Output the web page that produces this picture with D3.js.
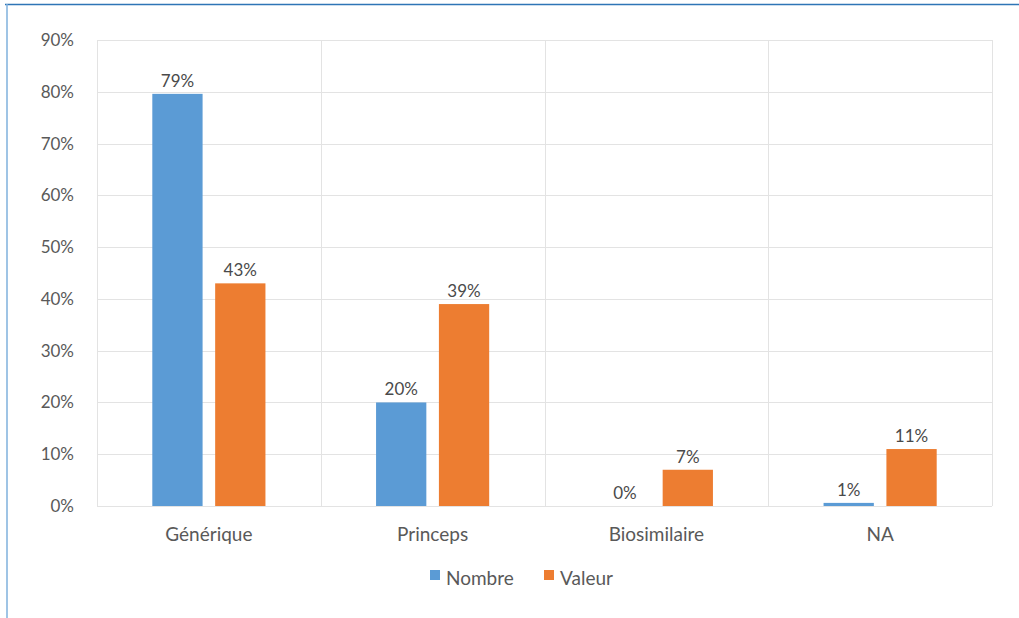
<!DOCTYPE html>
<html>
<head>
<meta charset="utf-8">
<script src="https://cdn.jsdelivr.net/npm/d3@7"></script>
<style>
  body { margin: 0; background: #fff; }
  svg { display: block; font-family: Lato, "Open Sans", sans-serif; }
</style>
</head>
<body>
<svg width="1019" height="618"></svg>
<script>
const svg = d3.select("svg");

const categories = ["Générique", "Princeps", "Biosimilaire", "NA"];
const seriesNames = ["Nombre", "Valeur"];
const nombre = [79.6, 20, 0, 0.6];
const valeur = [43, 39, 7, 11];
const labelsNombre = ["79%", "20%", "0%", "1%"];
const labelsValeur = ["43%", "39%", "7%", "11%"];
const yTicks = [0, 10, 20, 30, 40, 50, 60, 70, 80, 90];

const colors = ["#5b9bd5", "#ed7d31"];

// frame lines of the picture
svg.append("line").attr("x1", 5).attr("x2", 1019).attr("y1", 4.5).attr("y2", 4.5)
    .style("stroke", "#2e75b6").style("stroke-width", 1.5);
svg.append("line").attr("x1", 7).attr("x2", 7).attr("y1", 4).attr("y2", 618)
    .style("stroke", "#7fb0dc").style("stroke-width", 1.5);

const plotLeft = 97, plotRight = 992, plotTop = 40, plotBottom = 506;

const x = d3.scaleBand().domain(categories).range([plotLeft, plotRight]);
const x1 = d3.scaleBand().domain(seriesNames).range([0, x.bandwidth()])
    .paddingInner(0.2).paddingOuter(0.88);
const y = d3.scaleLinear().domain([0, 90]).range([plotBottom, plotTop]);

// horizontal grid
svg.append("g").selectAll("line").data(yTicks).enter().append("line")
    .attr("x1", plotLeft).attr("x2", plotRight)
    .attr("y1", d => Math.round(y(d)) + 0.5).attr("y2", d => Math.round(y(d)) + 0.5)
    .style("stroke", "#e3e3e3");

// vertical separators
const seps = categories.map(c => x(c)).concat([plotRight]);
svg.append("g").selectAll("line").data(seps).enter().append("line")
    .attr("x1", d => Math.round(d) + 0.5).attr("x2", d => Math.round(d) + 0.5)
    .attr("y1", plotTop).attr("y2", plotBottom)
    .style("stroke", "#e3e3e3");

// y labels
svg.append("g").selectAll("text").data(yTicks).enter().append("text")
    .attr("x", 74).attr("y", d => y(d) + 6)
    .attr("text-anchor", "end")
    .attr("font-size", 17).attr("fill", "#595959")
    .text(d => d + "%");

// bars
const series = [nombre, valeur];
const labels = [labelsNombre, labelsValeur];
series.forEach((vals, s) => {
    const g = svg.append("g");
    g.selectAll("rect").data(vals).enter().append("rect")
        .attr("x", (d, i) => x(categories[i]) + x1(seriesNames[s]))
        .attr("width", x1.bandwidth())
        .attr("y", d => y(d))
        .attr("height", d => y(0) - y(d))
        .style("fill", colors[s]);
    g.selectAll("text").data(vals).enter().append("text")
        .attr("x", (d, i) => x(categories[i]) + x1(seriesNames[s]) + x1.bandwidth() / 2)
        .attr("y", d => y(d) - 7)
        .attr("text-anchor", "middle")
        .attr("font-size", 17).attr("fill", "#4a4a4a")
        .text((d, i) => labels[s][i]);
});

// category labels
svg.append("g").selectAll("text").data(categories).enter().append("text")
    .attr("x", d => x(d) + x.bandwidth() / 2)
    .attr("y", 541)
    .attr("text-anchor", "middle")
    .attr("font-size", 19).attr("fill", "#595959")
    .text(d => d);

// legend
const legendX = [430, 544];
const legend = svg.append("g");
seriesNames.forEach((n, i) => {
    legend.append("rect").attr("x", legendX[i]).attr("y", 570)
        .attr("width", 10).attr("height", 10).style("fill", colors[i]);
    legend.append("text").attr("x", legendX[i] + 16).attr("y", 585)
        .attr("font-size", 19).attr("fill", "#595959").text(n);
});
</script>
</body>
</html>
